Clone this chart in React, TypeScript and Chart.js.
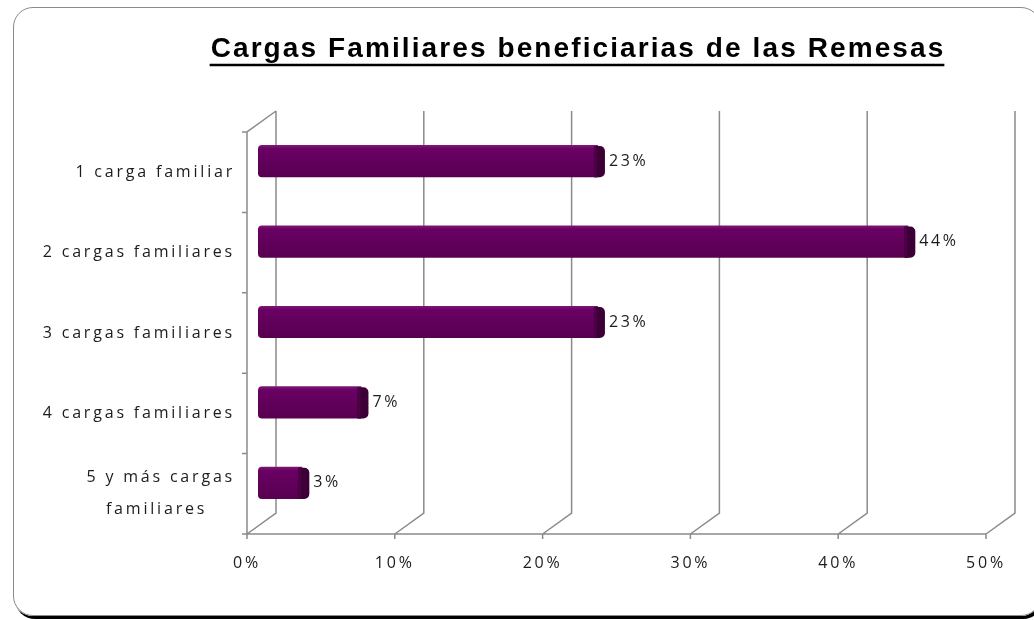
import React, { useEffect, useRef } from 'react';
import { Chart, registerables } from 'chart.js';

Chart.register(...registerables);

const chartTitle = 'Cargas Familiares beneficiarias de las Remesas';
const categories: (string | string[])[] = [
  '1 carga familiar',
  '2 cargas familiares',
  '3 cargas familiares',
  '4 cargas familiares',
  ['5 y más cargas', 'familiares'],
];
const values = [23, 44, 23, 7, 3];
const xTicks = [0, 10, 20, 30, 40, 50];

const DEPTH_X = 29;
const DEPTH_Y = -21;
const BAR_DX = 11;
const BAR_DY = -11;
const GRID = '#8a8a8a';
const TEXT = '#1c1c1c';
const FONT = '"Open Sans", "Noto Sans", sans-serif';
const SPACING = '2.8px';

const depthPlugin = {
  id: 'depth3d',
  beforeDraw(chart: any) {
    chart.ctx.letterSpacing = SPACING;
  },
  beforeDatasetsDraw(chart: any) {
    const { ctx, chartArea: a, scales } = chart;
    const xs = scales.x;
    const ys = scales.y;
    ctx.save();
    ctx.strokeStyle = GRID;
    ctx.lineWidth = 1.5;
    ctx.beginPath();
    ctx.moveTo(a.left, a.bottom);
    ctx.lineTo(a.left, a.top);
    ctx.lineTo(a.left + DEPTH_X, a.top + DEPTH_Y);
    xTicks.forEach((v) => {
      const px = xs.getPixelForValue(v);
      ctx.moveTo(px, a.bottom);
      ctx.lineTo(px + DEPTH_X, a.bottom + DEPTH_Y);
      ctx.lineTo(px + DEPTH_X, a.top + DEPTH_Y);
      ctx.moveTo(px, a.bottom);
      ctx.lineTo(px, a.bottom + 5);
    });
    ctx.moveTo(a.left, a.bottom);
    ctx.lineTo(a.right, a.bottom);
    const n = categories.length;
    for (let i = 0; i <= n; i++) {
      const yb =
        i === 0
          ? a.top
          : i === n
          ? a.bottom
          : (ys.getPixelForValue(i - 1) + ys.getPixelForValue(i)) / 2;
      ctx.moveTo(a.left - 5, yb);
      ctx.lineTo(a.left, yb);
    }
    ctx.stroke();
    ctx.restore();
    ctx.save();
    ctx.translate(BAR_DX, BAR_DY);
  },
  afterDatasetsDraw(chart: any) {
    const ctx = chart.ctx;
    const meta = chart.getDatasetMeta(0);
    meta.data.forEach((el: any, i: number) => {
      const { x, y, height } = el.getProps(['x', 'y', 'height'], true);
      const top = y - height / 2;
      ctx.fillStyle = '#3c0036';
      ctx.beginPath();
      ctx.roundRect(x - 4, top + 1, 11, height - 1, [1, 5, 5, 1]);
      ctx.fill();
      ctx.fillStyle = '#4d0046';
      ctx.fillRect(x - 4, top + 1, 3, height - 1);
      ctx.font = `16px ${FONT}`;
      ctx.letterSpacing = '2.6px';
      ctx.fillStyle = TEXT;
      ctx.textAlign = 'left';
      ctx.textBaseline = 'middle';
      ctx.fillText(`${values[i]}%`, x + 11, y);
    });
    ctx.restore();
  },
  afterDraw(chart: any) {
    const ctx = chart.ctx;
    ctx.save();
    ctx.font = 'bold 28px "Liberation Sans", Arial, sans-serif';
    ctx.letterSpacing = '2.1px';
    ctx.fillStyle = '#000';
    ctx.textAlign = 'left';
    ctx.textBaseline = 'alphabetic';
    const w = ctx.measureText(chartTitle).width - 2;
    const cx = 577;
    const left = cx - w / 2;
    ctx.fillText(chartTitle, left, 57);
    ctx.strokeStyle = '#000';
    ctx.lineWidth = 2.5;
    ctx.beginPath();
    ctx.moveTo(left - 1, 65);
    ctx.lineTo(left + w + 1, 65);
    ctx.stroke();
    ctx.restore();
  },
};

export default function App() {
  const ref = useRef<HTMLCanvasElement>(null);

  useEffect(() => {
    if (!ref.current) return;
    const chart = new Chart(ref.current, {
      type: 'bar',
      data: {
        labels: categories as any,
        datasets: [
          {
            data: values,
            backgroundColor: (c: any) => {
              const ch = c.chart;
              const ys = ch.scales && ch.scales.y;
              const yc = ys ? ys.getPixelForValue(c.dataIndex) : NaN;
              if (!Number.isFinite(yc)) return '#640060';
              const g = ch.ctx.createLinearGradient(0, yc - 16, 0, yc + 16);
              g.addColorStop(0, '#7c1a74');
              g.addColorStop(0.12, '#6a0064');
              g.addColorStop(1, '#570050');
              return g;
            },
            borderWidth: 0,
            borderSkipped: false,
            borderRadius: { topLeft: 4, bottomLeft: 4, topRight: 0, bottomRight: 0 },
            barPercentage: 0.4,
            categoryPercentage: 1,
            clip: false as any,
          },
        ],
      },
      options: {
        indexAxis: 'y',
        animation: false,
        responsive: false,
        devicePixelRatio: 1,
        layout: { padding: { left: 0, right: 48, top: 132, bottom: 0 } },
        plugins: {
          legend: { display: false },
          title: { display: false },
          tooltip: { enabled: false },
        },
        scales: {
          x: {
            type: 'linear',
            min: xTicks[0],
            max: xTicks[xTicks.length - 1],
            ticks: {
              stepSize: xTicks[1] - xTicks[0],
              callback: (v: any) => `${v}%`,
              padding: 20,
              color: TEXT,
              font: { family: FONT, size: 16 },
              maxRotation: 0,
            },
            grid: { display: false, drawTicks: false },
            border: { display: false },
            afterFit: (s: any) => {
              s.height = 86;
            },
          },
          y: {
            type: 'category',
            ticks: {
              padding: 12,
              color: TEXT,
              font: { family: FONT, size: 16, lineHeight: 2 },
              callback: (_v: any, i: number) => {
                const l = categories[i];
                if (Array.isArray(l)) {
                  const max = Math.max(...l.map((s) => s.length));
                  return l.map((s) => s + ' '.repeat(max - s.length));
                }
                return l;
              },
            },
            grid: { display: false, drawTicks: false },
            border: { display: false },
            afterFit: (s: any) => {
              s.width = 247;
            },
          },
        },
      },
      plugins: [depthPlugin],
    } as any);
    return () => chart.destroy();
  }, []);

  return (
    <div style={{ position: 'fixed', left: 0, top: 0, width: 1034, height: 620, background: '#fff', overflow: 'hidden' }}>
      <div
        style={{
          position: 'absolute',
          left: 13,
          top: 7,
          width: 1028,
          height: 609,
          boxSizing: 'border-box',
          border: '1.5px solid #8a8a8a',
          borderRadius: 20,
          boxShadow: '2px 3px 0 #000',
        }}
      />
      <canvas
        ref={ref}
        width={1034}
        height={620}
        style={{ position: 'absolute', left: 0, top: 0, display: 'block' }}
      />
    </div>
  );
}
